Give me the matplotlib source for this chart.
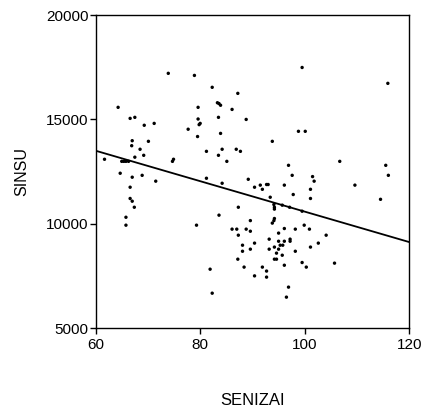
import matplotlib
matplotlib.use("Agg")
import matplotlib.pyplot as plt

plt.rcParams['font.family'] = ['Liberation Sans', 'DejaVu Sans']

# Data
senizai = [61.7, 64.3, 64.7, 65.0, 65.4, 65.8, 66.3, 65.8, 65.8, 66.6, 66.6, 67.0,
           67.4, 66.6, 67.5, 67.0, 66.9, 67.0, 67.5, 68.5, 68.9, 69.3, 69.2, 70.1,
           71.2, 71.5, 73.9, 74.7, 74.9, 77.7, 78.9, 79.3, 79.5, 79.6, 79.6, 79.8,
           80.0, 81.2, 81.2, 81.9, 82.3, 82.3, 83.3, 83.6, 83.5, 83.5, 83.6, 83.9,
           83.9, 84.2, 84.2, 85.1, 86.1, 86.1, 86.9, 87.0, 87.2, 87.7, 87.3, 87.3,
           87.2, 88.1, 88.1, 88.4, 88.8, 88.8, 89.2, 89.6, 89.6, 89.6, 90.4, 90.4,
           90.4, 91.5, 91.9, 92.7, 93.0, 91.9, 92.7, 92.7, 93.2, 93.2, 93.4, 93.8,
           93.8, 94.1, 94.2, 94.2, 94.1, 94.2, 94.2, 94.2, 94.6, 94.6, 95.0, 95.0,
           95.0, 95.3, 95.7, 95.7, 96.1, 96.1, 96.1, 96.1, 95.8, 96.5, 96.9, 96.9,
           97.1, 97.2, 97.2, 97.6, 97.8, 98.2, 98.2, 98.8, 99.5, 99.5, 99.5, 99.9,
           100.1, 100.3, 100.9, 101.1, 101.1, 101.1, 101.5, 101.8, 102.6, 104.1,
           105.7, 106.7, 109.6, 114.5, 115.5, 115.9, 116.0]
sinsu = [13090, 15580, 12420, 12990, 12990, 12990, 12990, 10310, 9930, 11750, 11210, 11080,
         10790, 15050, 15100, 13980, 13740, 12230, 13190, 13570, 12320, 14720, 13280, 13950,
         14810, 12040, 17210, 12990, 13090, 14530, 17110, 9930, 14180, 15580, 15020, 14750,
         14810, 12180, 13470, 7820, 16540, 6670, 15800, 15760, 15100, 13280, 10410, 15680,
         14330, 13570, 11940, 12990, 15480, 9740, 13570, 9740, 16250, 13470, 10790, 9450,
         8300, 8970, 8680, 7920, 15000, 9740, 12130, 10150, 9640, 8780, 9070, 7500,
         11750, 11850, 11650, 11880, 11880, 7920, 7730, 7440, 9260, 8780, 11270, 13950,
         10030, 10920, 10790, 10700, 10150, 10250, 8880, 8300, 8300, 8590, 9550, 8780,
         9160, 8970, 10890, 8490, 11850, 9770, 8010, 9160, 8970, 6480, 12800, 6960,
         10790, 9260, 9160, 12320, 11400, 9740, 8680, 14430, 17490, 10600, 8140, 9930,
         14430, 7920, 9740, 8880, 11650, 11210, 12260, 12040, 9070, 9450,
         8110, 12990, 11850, 11170, 12800, 16730, 12320]

# Fit line as drawn in the original
fit_x = [60, 120]
fit_y = [13500, 9120]

fig = plt.figure(figsize=(4.25, 4.09), dpi=100)
ax = fig.add_axes([0.225, 0.198, 0.738, 0.765])

ax.scatter(senizai, sinsu, s=6, c='black', edgecolors='none', zorder=3)
ax.plot(fit_x, fit_y, color='black', linewidth=1.3)

ax.set_xlim(60, 120)
ax.set_ylim(5000, 20000)
ax.set_xticks([60, 80, 100, 120])
ax.set_yticks([5000, 10000, 15000, 20000])
ax.tick_params(direction='out', length=4, width=1, labelsize=11, colors='black')
ax.tick_params(axis='x', pad=3)
ax.tick_params(axis='y', pad=1)
for s in ax.spines.values():
    s.set_linewidth(1)

ax.set_xlabel('SENIZAI', fontsize=12, labelpad=30)
ax.set_ylabel('SINSU', fontsize=11.5, labelpad=12)

fig.savefig('out.png', dpi=100)
